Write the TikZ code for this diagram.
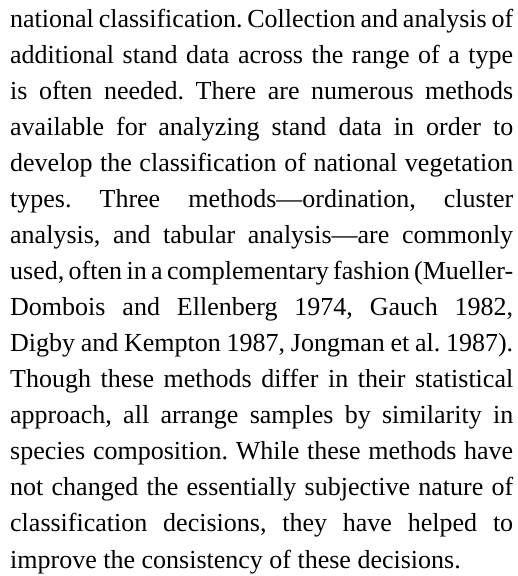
\documentclass[tikz,border=0pt]{standalone}
\usepackage{fontspec}
\setmainfont{Liberation Serif}
\frenchspacing
\tikzset{
  textline/.style={anchor=base west, inner sep=0pt, text width=503pt, align=justify,
    font=\fontsize{26}{30}\selectfont,
    execute at begin node={\hyphenpenalty=10000\relax\parfillskip=0pt\relax}},
  lastline/.style={anchor=base west, inner sep=0pt, font=\fontsize{26}{30}\selectfont}
}
\begin{document}
\begin{tikzpicture}[x=1pt,y=1pt]
 \useasboundingbox (0,0) rectangle (518,576);
 % justified lines of the paragraph, one node each
 \foreach \txt [count=\k] in {
   {national classification. Collection and analysis of},
   {additional stand data across the range of a type},
   {is often needed. There are numerous methods},
   {available for analyzing stand data in order to},
   {develop the classification of national vegetation},
   {types. Three methods---ordination, cluster},
   {analysis, and tabular analysis---are commonly},
   {used, often in a complementary fashion (Mueller-},
   {Dombois and Ellenberg 1974, Gauch 1982,},
   {Digby and Kempton 1987, Jongman et al. 1987).},
   {Though these methods differ in their statistical},
   {approach, all arrange samples by similarity in},
   {species composition. While these methods have},
   {not changed the essentially subjective nature of},
   {classification decisions, they have helped to}}
   \node[textline] (line\k) at (10,{576-28-36*(\k-1)}) {\txt};
 % closing line, left ragged
 \node[lastline] (line16) at (10,{576-28-36*15}) {improve the consistency of these decisions.};
\end{tikzpicture}
\end{document}
